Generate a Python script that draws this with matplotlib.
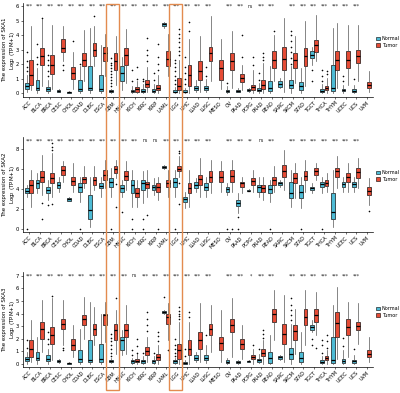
import numpy as np
import matplotlib
matplotlib.use("Agg")
import matplotlib.pyplot as plt
from matplotlib.patches import Rectangle, Patch
import matplotlib.transforms as mtransforms

nan = np.nan
cancers = ["ACC", "BLCA", "BRCA", "CESC", "CHOL", "COAD", "DLBC", "ESCA", "GBM", "HNSC",
           "KICH", "KIRC", "KIRP", "LAML", "LGG", "LIHC", "LUAD", "LUSC", "MESO", "OV",
           "PAAD", "PCPG", "PRAD", "READ", "SARC", "SKCM", "STAD", "TGCT", "THCA", "THYM",
           "UCEC", "UCS", "UVM"]
highlight = ["GBM", "LGG"]

# ---------------- SKA1 ----------------
ska1_n_lo = [0.05, 0.02, 0.0, 0.05, 0.01, 0.0, 0.0, 0.0, 0.02, 0.2, 0.0, 0.0, 0.0, 4.5, 0.0, 0.0, 0.05, 0.05, nan, 0.0, 0.05, 0.1, 0.0, 0.0, 0.35, 0.0, 0.0, 1.95, 0.0, 0.0, 0.0, 0.0, nan]
ska1_n_q1 = [0.28, 0.18, 0.11, 0.1, 0.03, 0.12, 0.18, 0.11, 0.1, 0.8, 0.05, 0.07, 0.07, 4.62, 0.05, 0.05, 0.18, 0.18, nan, 0.07, 0.1, 0.15, 0.11, 0.11, 0.4, 0.35, 0.23, 2.41, 0.07, 0.11, 0.11, 0.09, nan]
ska1_n_med = [0.5, 0.35, 0.27, 0.13, 0.05, 0.25, 0.35, 0.27, 0.13, 1.4, 0.13, 0.15, 0.15, 4.73, 0.1, 0.1, 0.35, 0.35, nan, 0.12, 0.14, 0.2, 0.2, 0.35, 0.64, 0.57, 0.46, 2.64, 0.15, 0.35, 0.18, 0.14, nan]
ska1_n_q3 = [0.69, 0.92, 0.41, 0.18, 0.07, 0.9, 1.85, 1.26, 0.18, 1.85, 0.23, 0.28, 0.28, 4.8, 0.2, 0.18, 0.5, 0.5, nan, 0.23, 0.2, 0.25, 0.35, 0.8, 0.8, 0.92, 0.74, 2.87, 0.28, 1.95, 0.28, 0.28, nan]
ska1_n_hi = [1.26, 1.7, 0.9, 0.3, 0.12, 1.85, 4.5, 3.3, 0.3, 2.5, 0.5, 0.6, 0.6, 4.92, 0.4, 0.35, 0.92, 0.95, nan, 0.45, 0.35, 0.35, 0.7, 1.84, 1.03, 1.84, 1.72, 3.2, 0.6, 4.48, 0.55, 0.55, nan]
ska1_t_lo = [0.23, 0.46, 0.3, 2.2, 0.3, 0.8, 1.85, 1.15, 0.57, 0.7, 0.0, 0.1, 0.0, 1.15, 0.0, 0.0, 0.1, 0.8, 0.28, 0.35, 0.2, 0.0, 0.0, 0.8, 0.1, 0.69, 0.46, 2.18, 0.0, 0.35, 0.57, 0.8, 0.1]
ska1_t_q1 = [0.57, 1.95, 1.33, 2.8, 1.0, 1.85, 2.55, 2.2, 1.6, 1.95, 0.1, 0.4, 0.18, 1.84, 0.23, 0.46, 0.9, 2.2, 0.92, 1.6, 0.76, 0.18, 0.3, 1.72, 1.6, 1.72, 1.84, 2.8, 0.18, 1.6, 1.72, 2.07, 0.35]
ska1_t_med = [1.26, 2.57, 1.95, 3.1, 1.4, 2.3, 3.0, 2.75, 2.2, 2.6, 0.27, 0.65, 0.33, 2.35, 0.5, 1.26, 1.55, 2.75, 1.72, 2.18, 1.03, 0.4, 0.57, 2.3, 2.37, 2.3, 2.53, 3.33, 0.35, 2.3, 2.3, 2.57, 0.53]
ska1_t_q3 = [2.3, 3.1, 2.65, 3.72, 1.8, 2.75, 3.45, 3.2, 2.75, 3.1, 0.4, 0.9, 0.57, 2.87, 1.03, 1.95, 2.2, 3.2, 2.3, 2.75, 1.33, 0.57, 0.87, 2.87, 3.2, 2.75, 3.1, 3.68, 0.5, 2.87, 2.87, 2.99, 0.74]
ska1_t_hi = [4.6, 5.1, 4.7, 4.6, 2.8, 4.35, 4.6, 4.1, 3.9, 4.4, 0.8, 1.8, 1.26, 4.1, 2.3, 3.7, 3.9, 5.3, 3.7, 4.25, 1.95, 1.6, 2.07, 4.0, 5.17, 3.9, 4.94, 5.4, 1.03, 4.8, 4.7, 4.7, 1.5]
ska1_sig = ["***"] * 18 + ["", "***", "***", "ns", "***", "***", ""] + ["***"] * 7 + [""]
ska1_fliers = {
    ("ACC", "N"): [1.5, 1.8, 2.2, 2.8], ("BLCA", "N"): [2.0, 2.5, 3.4], ("BLCA", "T"): [5.2],
    ("BRCA", "N"): [1.2, 1.5, 1.9, 2.3, 2.6], ("CESC", "T"): [1.95, 1.6], ("CHOL", "T"): [3.6],
    ("COAD", "N"): [2.0], ("DLBC", "T"): [5.3],
    ("GBM", "N"): [0.5, 0.7, 0.9, 1.1, 1.3, 1.5, 1.7, 1.9, 2.1, 2.4],
    ("KICH", "N"): [0.8, 1.6], ("KICH", "T"): [1.0, 1.8], ("KIRC", "N"): [0.8, 1.0],
    ("KIRC", "T"): [2.2, 2.6, 3.0, 3.8], ("KIRP", "N"): [0.9, 1.4], ("KIRP", "T"): [1.6, 2.0, 2.5, 3.4],
    ("LGG", "N"): [0.6, 0.9, 1.2, 1.5, 1.8, 2.1, 2.3], ("LGG", "T"): [2.6, 2.9, 3.2, 3.5, 3.8, 4.1, 4.4],
    ("LIHC", "N"): [0.6, 1.0, 1.4, 1.8, 2.5], ("LIHC", "T"): [4.3, 4.9], ("LUSC", "N"): [1.2, 1.8],
    ("OV", "N"): [0.7], ("PAAD", "T"): [2.5, 4.0], ("PCPG", "T"): [1.9, 2.5],
    ("PRAD", "N"): [0.9, 1.4], ("PRAD", "T"): [2.3, 2.5, 2.75], ("READ", "T"): [4.3],
    ("SKCM", "N"): [2.0, 2.4, 2.8, 3.2, 3.6, 4.0, 4.3], ("TGCT", "N"): [1.6, 0.8],
    ("THCA", "N"): [0.8, 1.2, 1.6], ("THCA", "T"): [1.3, 1.5], ("UCEC", "N"): [0.8, 1.15],
    ("UCS", "N"): [1.0],
}

# ---------------- SKA2 ----------------
ska2_n_lo = [3.2, 3.56, 2.9, 3.7, 2.75, 2.72, 0.2, 3.2, 3.2, 3.2, 2.2, 2.55, 3.4, 6.0, 3.2, 2.05, 3.73, 3.2, nan, 3.4, 1.55, 3.75, 3.2, 2.72, 4.23, 2.2, 2.05, 3.56, 3.56, 0.2, 3.73, 3.73, nan]
ska2_n_q1 = [3.56, 4.07, 3.56, 4.07, 2.82, 3.73, 1.04, 4.07, 4.23, 3.73, 3.56, 3.9, 3.9, 6.08, 4.23, 2.72, 4.07, 3.9, nan, 3.73, 2.3, 3.8, 3.73, 3.56, 4.4, 3.06, 3.06, 3.9, 4.17, 1.04, 4.23, 4.23, nan]
ska2_n_med = [3.83, 4.57, 3.9, 4.4, 2.96, 4.23, 1.88, 4.3, 4.74, 4.07, 4.4, 4.57, 4.17, 6.18, 4.74, 2.96, 4.4, 4.23, nan, 3.97, 2.6, 3.83, 4.17, 3.97, 4.57, 3.56, 3.73, 4.07, 4.5, 1.71, 4.5, 4.5, nan]
ska2_n_q3 = [4.07, 4.9, 4.23, 4.74, 3.06, 4.57, 3.4, 4.57, 5.07, 4.4, 4.9, 4.9, 4.4, 6.25, 5.07, 3.23, 4.74, 4.57, nan, 4.23, 2.9, 3.9, 4.4, 4.4, 4.74, 4.74, 4.4, 4.23, 4.74, 3.56, 4.74, 4.74, nan]
ska2_n_hi = [4.4, 5.6, 4.9, 5.2, 3.2, 5.24, 5.24, 5.2, 6.1, 4.9, 5.9, 5.75, 5.07, 6.35, 5.9, 3.73, 5.07, 5.24, nan, 4.57, 3.56, 3.95, 5.24, 4.9, 4.9, 5.9, 5.24, 4.57, 5.24, 5.9, 5.24, 5.24, nan]
ska2_t_lo = [2.2, 3.4, 3.2, 4.74, 3.73, 4.07, 3.9, 4.07, 5.07, 3.9, 2.2, 3.2, 2.9, 3.2, 5.24, 2.2, 3.2, 3.56, 3.73, 3.73, 3.56, 3.73, 2.9, 3.73, 3.9, 3.06, 3.73, 4.9, 3.73, 4.07, 3.73, 4.07, 2.4]
ska2_t_q1 = [3.56, 4.74, 4.57, 5.4, 4.4, 4.57, 4.4, 4.9, 5.58, 4.9, 3.23, 4.07, 3.73, 4.23, 5.75, 3.56, 4.4, 4.74, 4.74, 4.74, 4.17, 4.4, 3.73, 4.4, 5.24, 4.57, 4.9, 5.4, 4.34, 5.24, 4.74, 5.07, 3.4]
ska2_t_med = [4.4, 5.24, 5.07, 5.85, 4.84, 4.97, 4.9, 5.4, 5.98, 5.3, 3.56, 4.5, 4.23, 4.57, 6.0, 4.07, 4.97, 5.24, 5.24, 5.3, 4.57, 4.8, 4.07, 4.9, 5.75, 5.07, 5.3, 5.75, 4.64, 5.75, 5.24, 5.65, 3.83]
ska2_t_q3 = [4.9, 5.75, 5.58, 6.25, 5.24, 5.24, 5.24, 5.9, 6.25, 5.75, 4.07, 4.74, 4.57, 4.9, 6.25, 4.57, 5.4, 5.75, 5.75, 5.9, 4.74, 5.07, 4.4, 5.24, 6.4, 5.58, 5.75, 6.08, 4.9, 6.08, 5.58, 6.08, 4.23]
ska2_t_hi = [5.9, 7.4, 7.6, 6.75, 6.6, 6.25, 6.25, 6.9, 6.9, 6.75, 4.9, 5.9, 5.24, 5.9, 7.26, 5.9, 7.1, 6.9, 6.75, 6.9, 5.24, 5.9, 5.24, 6.25, 7.9, 6.6, 6.9, 6.6, 5.58, 7.26, 6.6, 7.1, 5.07]
ska2_sig = ["***"] * 11 + ["ns", "ns"] + ["***"] * 5 + ["", "***", "***", "**", "ns", "***", ""] + ["***"] * 7 + [""]
ska2_fliers = {
    ("ACC", "N"): [0.0], ("BLCA", "T"): [1.0, 2.6], ("BRCA", "N"): [2.4],
    ("BRCA", "T"): [7.9, 8.2, 8.6, 2.5], ("COAD", "N"): [0.0], ("GBM", "N"): [0.0],
    ("GBM", "T"): [4.5, 2.2], ("HNSC", "N"): [1.7], ("KICH", "N"): [1.0, 0.0],
    ("KIRC", "N"): [1.0, 0.0], ("KIRC", "T"): [1.4], ("KIRP", "T"): [0.0],
    ("LGG", "N"): [0.0], ("LGG", "T"): [7.6, 7.8, 4.6, 2.5], ("OV", "N"): [0.0],
    ("OV", "T"): [0.0], ("PAAD", "N"): [0.0, 1.2], ("READ", "N"): [0.0],
    ("STAD", "N"): [0.0], ("THCA", "N"): [0.0], ("UVM", "T"): [1.8],
}

# ---------------- SKA3 ----------------
ska3_n_lo = [0.0, 0.0, 0.0, 0.1, 0.01, 0.0, 0.0, 0.0, 0.05, 0.69, 0.02, 0.0, 0.0, 4.0, 0.0, 0.0, 0.16, 0.05, nan, 0.0, 0.02, 0.15, 0.05, 0.0, 0.35, 0.0, 0.0, 2.55, 0.0, 0.0, 0.0, 0.0, nan]
ska3_n_q1 = [0.21, 0.29, 0.24, 0.16, 0.03, 0.16, 0.16, 0.16, 0.13, 1.09, 0.1, 0.1, 0.1, 4.05, 0.1, 0.03, 0.29, 0.29, nan, 0.08, 0.08, 0.18, 0.16, 0.1, 0.42, 0.42, 0.16, 2.68, 0.08, 0.1, 0.08, 0.1, nan]
ska3_n_med = [0.37, 0.48, 0.42, 0.2, 0.05, 0.42, 0.29, 0.42, 0.21, 1.88, 0.2, 0.24, 0.22, 4.12, 0.2, 0.08, 0.48, 0.48, nan, 0.18, 0.15, 0.2, 0.29, 0.48, 0.52, 0.82, 0.48, 2.94, 0.18, 0.29, 0.24, 0.22, nan]
ska3_n_q3 = [0.56, 0.95, 0.69, 0.29, 0.1, 1.09, 1.88, 1.62, 0.29, 2.15, 0.29, 0.34, 0.34, 4.2, 0.29, 0.16, 0.69, 0.69, nan, 0.29, 0.21, 0.24, 0.42, 0.95, 0.61, 1.27, 0.95, 3.13, 0.29, 2.15, 0.42, 0.34, nan]
ska3_n_hi = [0.95, 2.15, 1.22, 0.4, 0.15, 2.8, 4.9, 4.0, 0.45, 2.68, 0.5, 0.6, 0.6, 4.3, 0.5, 0.3, 0.95, 1.5, nan, 0.5, 0.35, 0.3, 0.8, 2.28, 0.7, 3.2, 2.55, 3.47, 0.6, 4.67, 1.09, 0.7, nan]
ska3_t_lo = [0.16, 0.95, 0.29, 1.5, 0.56, 2.0, 1.5, 1.75, 0.82, 0.82, 0.0, 0.16, 0.0, 1.88, 0.0, 0.0, 0.16, 0.95, 0.16, 0.56, 0.42, 0.0, 0.0, 1.88, 0.16, 0.82, 1.5, 2.28, 0.0, 0.42, 0.56, 1.62, 0.16]
ska3_t_q1 = [0.56, 2.0, 1.62, 2.8, 1.09, 3.08, 2.28, 3.08, 1.88, 2.15, 0.13, 0.69, 0.29, 3.2, 0.42, 0.69, 1.22, 2.28, 1.09, 2.55, 1.22, 0.37, 0.61, 3.34, 1.62, 1.88, 3.08, 3.34, 0.29, 2.15, 2.28, 2.68, 0.56]
ska3_t_med = [1.22, 2.76, 2.28, 3.2, 1.49, 3.6, 2.8, 3.87, 2.68, 2.68, 0.24, 1.0, 0.56, 3.74, 1.09, 1.22, 1.88, 2.8, 1.7, 3.08, 1.62, 0.56, 0.9, 3.93, 2.41, 2.6, 3.74, 3.87, 0.48, 3.29, 2.94, 3.02, 0.82]
ska3_t_q3 = [1.88, 3.34, 2.94, 3.6, 2.0, 3.87, 3.2, 4.0, 3.2, 3.2, 0.42, 1.35, 0.82, 4.0, 1.62, 1.88, 2.55, 3.2, 2.15, 3.6, 2.0, 0.74, 1.17, 4.4, 3.2, 3.08, 4.4, 4.4, 0.64, 4.14, 3.6, 3.34, 1.09]
ska3_t_hi = [3.47, 5.07, 5.2, 5.07, 3.08, 5.33, 4.5, 4.9, 4.27, 4.67, 0.8, 2.15, 1.5, 4.8, 3.34, 3.34, 4.8, 4.67, 4.27, 5.2, 3.08, 1.22, 1.88, 5.86, 5.46, 4.4, 5.86, 5.73, 1.09, 6.13, 4.9, 4.8, 2.15]
ska3_sig = ["***"] * 10 + ["ns"] + ["***"] * 7 + ["", "***", "***", "*", "***", "***", ""] + ["***"] * 7 + [""]
ska3_fliers = {
    ("ACC", "N"): [1.3, 1.9], ("BRCA", "N"): [1.6, 2.0, 2.5], ("BRCA", "T"): [5.4],
    ("CESC", "T"): [1.3, 1.1], ("GBM", "N"): [0.6, 0.9, 1.2, 1.5, 1.8, 2.1, 2.4],
    ("GBM", "T"): [5.2], ("KICH", "N"): [0.7, 1.1], ("KICH", "T"): [0.9, 1.4, 2.0],
    ("KIRC", "N"): [0.9], ("KIRC", "T"): [2.6, 3.1, 3.6, 4.1], ("KIRP", "N"): [0.9],
    ("KIRP", "T"): [1.8, 2.2, 2.5], ("LAML", "N"): [5.3], ("LAML", "T"): [1.1],
    ("LGG", "N"): [0.6, 0.9, 1.2, 1.5, 2.0], ("LGG", "T"): [3.6, 3.8, 4.0, 4.2, 4.5],
    ("LIHC", "N"): [0.6, 1.2], ("LIHC", "T"): [3.7, 4.1], ("LUSC", "N"): [2.3],
    ("PCPG", "T"): [1.5], ("PRAD", "N"): [1.2], ("PRAD", "T"): [2.1, 2.4, 2.7],
    ("SKCM", "N"): [3.5, 3.9, 4.3, 4.7, 5.2], ("TGCT", "N"): [1.5, 2.0], ("TGCT", "T"): [1.3],
    ("THCA", "N"): [0.9, 1.5, 1.9], ("THCA", "T"): [1.3, 1.8, 2.3],
    ("UCEC", "N"): [1.4, 2.1], ("UCS", "N"): [1.2],
}

panels = [
    dict(gene="SKA1", n=(ska1_n_lo, ska1_n_q1, ska1_n_med, ska1_n_q3, ska1_n_hi),
         t=(ska1_t_lo, ska1_t_q1, ska1_t_med, ska1_t_q3, ska1_t_hi), sig=ska1_sig,
         fl=ska1_fliers, ylim=(-0.28, 6.2), yticks=[0, 1, 2, 3, 4, 5, 6], sigy=6.0,
         rect=(0.753, 0.992), legy=0.893),
    dict(gene="SKA2", n=(ska2_n_lo, ska2_n_q1, ska2_n_med, ska2_n_q3, ska2_n_hi),
         t=(ska2_t_lo, ska2_t_q1, ska2_t_med, ska2_t_q3, ska2_t_hi), sig=ska2_sig,
         fl=ska2_fliers, ylim=(-0.3, 9.2), yticks=[0, 2, 4, 6, 8], sigy=8.8,
         rect=(0.4097, 0.6514), legy=0.552),
    dict(gene="SKA3", n=(ska3_n_lo, ska3_n_q1, ska3_n_med, ska3_n_q3, ska3_n_hi),
         t=(ska3_t_lo, ska3_t_q1, ska3_t_med, ska3_t_q3, ska3_t_hi), sig=ska3_sig,
         fl=ska3_fliers, ylim=(-0.24, 7.3), yticks=[0, 1, 2, 3, 4, 5, 6, 7], sigy=7.0,
         rect=(0.0662, 0.3079), legy=0.206),
]

c_normal = "#4DBBD5"
c_tumor = "#E64B35"

fig = plt.figure(figsize=(4.0, 3.93), dpi=100)
left, right = 0.0568, 0.9325

axes = []
for p in panels:
    b, t = p["rect"]
    ax = fig.add_axes([left, b, right - left, t - b])
    axes.append(ax)
    for grp, col, off in (("n", c_normal, -0.2), ("t", c_tumor, 0.2)):
        lo, q1, med, q3, hi = p[grp]
        stats, pos = [], []
        for i, c in enumerate(cancers):
            if np.isnan(med[i]):
                continue
            stats.append(dict(whislo=lo[i], q1=q1[i], med=med[i], q3=q3[i], whishi=hi[i],
                              fliers=p["fl"].get((c, grp.upper()), [])))
            pos.append(i + off)
        ax.bxp(stats, positions=pos, widths=0.36, patch_artist=True, showcaps=False,
               boxprops=dict(facecolor=col, edgecolor="black", linewidth=0.45),
               medianprops=dict(color="black", linewidth=0.9),
               whiskerprops=dict(color="#555555", linewidth=0.5),
               flierprops=dict(marker="o", markersize=0.9, markerfacecolor="black",
                               markeredgecolor="black", markeredgewidth=0.2))
    for i, s in enumerate(p["sig"]):
        if s:
            ax.text(i, p["sigy"], s, ha="center", va="center", fontsize=3.3, color="#222222")
    ax.set_xlim(-0.6, len(cancers) - 0.4)
    ax.set_ylim(*p["ylim"])
    ax.set_yticks(p["yticks"])
    ax.set_xticks(range(len(cancers)))
    ax.set_xticklabels(cancers, rotation=45, ha="right", rotation_mode="anchor", fontsize=3.6)
    ax.tick_params(axis="both", labelsize=3.8, length=1.5, width=0.4, pad=1)
    ax.tick_params(axis="x", labelsize=3.6)
    for s in ("top", "right"):
        ax.spines[s].set_visible(False)
    for s in ("left", "bottom"):
        ax.spines[s].set_linewidth(0.5)
    ax.set_ylabel("The expression of %s\nLog$_2$ (TPM+1)" % p["gene"], fontsize=4.0,
                  linespacing=1.15, va="center", ha="center")
    ax.yaxis.set_label_coords(-0.038, 0.5)
    fig.legend(handles=[Patch(facecolor=c_normal, edgecolor="black", linewidth=0.4, label="Normal"),
                        Patch(facecolor=c_tumor, edgecolor="black", linewidth=0.4, label="Tumor")],
               loc="center left", bbox_to_anchor=(0.935, p["legy"]), frameon=False,
               fontsize=3.6, handlelength=0.8, handleheight=0.8, handletextpad=0.4,
               labelspacing=0.3, borderaxespad=0)

blend = mtransforms.blended_transform_factory(axes[-1].transData, fig.transFigure)
for h in highlight:
    i = cancers.index(h)
    fig.add_artist(Rectangle((i - 0.7, 0.008), 1.2, 0.982, transform=blend, fill=False,
                             edgecolor="#E38B4F", linewidth=1.0, clip_on=False))

fig.savefig("out.png", dpi=100)
